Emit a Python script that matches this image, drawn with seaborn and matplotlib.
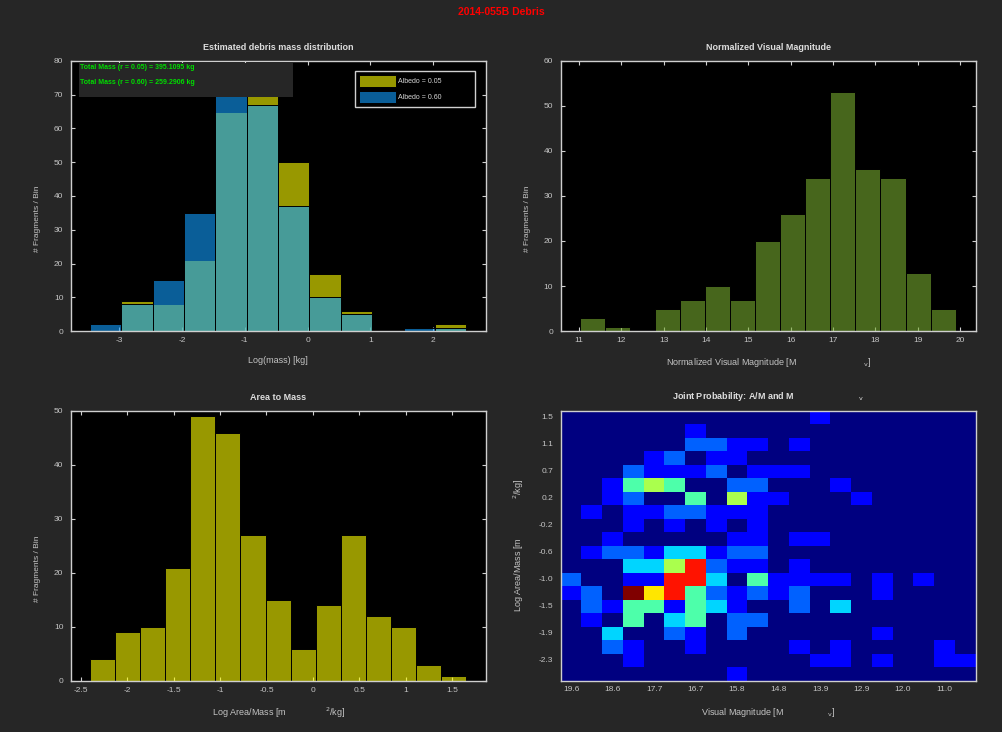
#!/usr/bin/env python3
import matplotlib
matplotlib.use('Agg')
import matplotlib.pyplot as plt
import numpy as np
import seaborn as sns
from matplotlib.colors import to_rgba
from matplotlib.patches import Patch, Rectangle
from matplotlib.ticker import FuncFormatter

BG = '#262626'
EDGE = '#cfcfcf'
TXT = '#c4c4c4'

sns.set_theme(
    context='paper',
    style='ticks',
    rc={
        'figure.facecolor': BG,
        'axes.facecolor': 'black',
        'axes.edgecolor': EDGE,
        'axes.linewidth': 1.0,
        'axes.labelcolor': TXT,
        'axes.titlecolor': '#dddddd',
        'axes.unicode_minus': False,
        'xtick.color': EDGE,
        'ytick.color': EDGE,
        'xtick.labelcolor': TXT,
        'ytick.labelcolor': TXT,
        'xtick.direction': 'in',
        'ytick.direction': 'in',
        'xtick.top': True,
        'ytick.right': True,
        'xtick.major.size': 3,
        'ytick.major.size': 3,
        'xtick.major.width': 0.8,
        'ytick.major.width': 0.8,
        'xtick.major.pad': 4,
        'ytick.major.pad': 5.5,
        'xtick.labelsize': 6,
        'ytick.labelsize': 6,
        'axes.labelsize': 6.5,
        'axes.titlesize': 6.5,
        'axes.titleweight': 'bold',
        'axes.titlepad': 8,
    },
)
plt.rcParams['font.family'] = ['Liberation Sans', 'DejaVu Sans']

# ---- data -----------------------------------------------------------------
# estimated mass distribution, log10(mass) bins
MASS_EDGES = [-3.47, -2.97, -2.47, -1.97, -1.47, -0.97, -0.47,
              0.03, 0.53, 1.03, 1.53, 2.03, 2.53]
MASS_COUNT_A005 = [0, 9, 8, 21, 65, 76, 50, 17, 6, 0, 0, 2]
MASS_COUNT_A060 = [2, 8, 15, 35, 73, 67, 37, 10, 5, 0, 1, 1]
TOTAL_MASS = {'0.05': '395.1095', '0.60': '259.2906'}

# normalized visual magnitude
MV_EDGES = [11.02, 11.61, 12.20, 12.80, 13.39, 13.98, 14.57, 15.16,
            15.76, 16.35, 16.94, 17.53, 18.12, 18.72, 19.31, 19.90]
MV_COUNT = [3, 1, 0, 5, 7, 10, 7, 20, 26, 34, 53, 36, 34, 13, 5]

# log area to mass
AM_EDGES = [-2.40, -2.13, -1.86, -1.59, -1.32, -1.05, -0.78, -0.51,
            -0.24, 0.03, 0.30, 0.57, 0.84, 1.11, 1.38, 1.65]
AM_COUNT = [4, 9, 10, 21, 49, 46, 27, 15, 6, 14, 27, 12, 10, 3, 1]

# joint A/M (rows, top = 1.5) vs Mv (columns, left = 19.6)
JOINT_COUNT = [
    [0, 0, 0, 0, 0, 0, 0, 0, 0, 0, 0, 0, 1, 0, 0, 0, 0, 0, 0, 0],
    [0, 0, 0, 0, 0, 0, 1, 0, 0, 0, 0, 0, 0, 0, 0, 0, 0, 0, 0, 0],
    [0, 0, 0, 0, 0, 0, 2, 2, 1, 1, 0, 1, 0, 0, 0, 0, 0, 0, 0, 0],
    [0, 0, 0, 0, 1, 2, 0, 1, 1, 0, 0, 0, 0, 0, 0, 0, 0, 0, 0, 0],
    [0, 0, 0, 2, 1, 1, 1, 2, 0, 1, 1, 1, 0, 0, 0, 0, 0, 0, 0, 0],
    [0, 0, 1, 4, 5, 4, 0, 0, 2, 2, 0, 0, 0, 1, 0, 0, 0, 0, 0, 0],
    [0, 0, 1, 2, 0, 0, 4, 0, 5, 1, 1, 0, 0, 0, 1, 0, 0, 0, 0, 0],
    [0, 1, 0, 1, 1, 2, 2, 1, 1, 1, 0, 0, 0, 0, 0, 0, 0, 0, 0, 0],
    [0, 0, 0, 1, 0, 1, 0, 1, 0, 1, 0, 0, 0, 0, 0, 0, 0, 0, 0, 0],
    [0, 0, 1, 0, 0, 0, 0, 0, 1, 1, 0, 1, 1, 0, 0, 0, 0, 0, 0, 0],
    [0, 1, 2, 2, 1, 3, 3, 1, 2, 2, 0, 0, 0, 0, 0, 0, 0, 0, 0, 0],
    [0, 0, 0, 3, 3, 5, 8, 2, 1, 1, 0, 1, 0, 0, 0, 0, 0, 0, 0, 0],
    [2, 0, 0, 1, 1, 8, 8, 3, 0, 4, 1, 1, 1, 1, 0, 1, 0, 1, 0, 0],
    [1, 2, 0, 9, 6, 8, 4, 2, 1, 2, 1, 2, 0, 0, 0, 1, 0, 0, 0, 0],
    [0, 2, 1, 4, 4, 1, 4, 3, 1, 0, 0, 2, 0, 3, 0, 0, 0, 0, 0, 0],
    [0, 1, 0, 4, 0, 3, 4, 0, 2, 2, 0, 0, 0, 0, 0, 0, 0, 0, 0, 0],
    [0, 0, 3, 0, 0, 2, 1, 0, 2, 0, 0, 0, 0, 0, 0, 1, 0, 0, 0, 0],
    [0, 0, 2, 1, 0, 0, 1, 0, 0, 0, 0, 1, 0, 1, 0, 0, 0, 0, 1, 0],
    [0, 0, 0, 1, 0, 0, 0, 0, 0, 0, 0, 0, 1, 1, 0, 1, 0, 0, 1, 1],
    [0, 0, 0, 0, 0, 0, 0, 0, 1, 0, 0, 0, 0, 0, 0, 0, 0, 0, 0, 0],
]
JOINT_MV_TICKS = ['19.6', '18.6', '17.7', '16.7', '15.8',
                  '14.8', '13.9', '12.9', '12.0', '11.0']
JOINT_AM_TICKS = ['1.5', '1.1', '0.7', '0.2', '-0.2',
                  '-0.6', '-1.0', '-1.5', '-1.9', '-2.3']

YELLOW = (1.0, 1.0, 0.0)
BLUE = (0.067, 0.62, 1.0)
GREEN = (0.466, 0.674, 0.188)


def centers(edges):
    e = np.asarray(edges)
    return (e[:-1] + e[1:]) / 2


def hist(ax, edges, counts, color):
    sns.histplot(x=centers(edges), weights=counts, bins=edges, color=color,
                 alpha=0.6, edgecolor='black', linewidth=0.7, ax=ax)


def frag_ylabel(ax):
    ax.set_ylabel('# Fragments / Bin', fontsize=6, labelpad=9)
    ax.yaxis.set_label_coords(-0.072, 0.415)


fmt = FuncFormatter(lambda v, p: f'{v:g}')
fig = plt.figure(figsize=(10.03, 7.32), dpi=100)
fig.suptitle('2014-055B Debris', color='red', fontweight='bold',
             fontsize=7.5, y=1 - 12 / 732, va='center')

# ---- mass distribution ----------------------------------------------------
ax = fig.add_axes([0.0708, 0.5478, 0.4135, 0.3689])
hist(ax, MASS_EDGES, MASS_COUNT_A005, YELLOW)
hist(ax, MASS_EDGES, MASS_COUNT_A060, BLUE)
ax.set(xlim=(-3.77, 2.84), ylim=(0, 80), xticks=range(-3, 3),
       yticks=range(0, 81, 10))
ax.set_title('Estimated debris mass distribution')
ax.set_xlabel('Log(mass) [kg]', labelpad=9)
frag_ylabel(ax)
ax.add_patch(Rectangle((0.019, 0.867), 0.516, 0.126, transform=ax.transAxes,
                       facecolor=BG, edgecolor='none', zorder=5))
for y, (alb, mass) in zip([0.975, 0.921], TOTAL_MASS.items()):
    ax.text(0.022, y, f'Total Mass (r = {alb}) = {mass} kg',
            transform=ax.transAxes, color='#00dd00', fontsize=5,
            fontweight='bold', va='center', zorder=6)
handles = [Patch(facecolor=to_rgba(c, 0.6), edgecolor='black', linewidth=0.7)
           for c in (YELLOW, BLUE)]
leg = ax.legend(handles, ['Albedo = 0.05', 'Albedo = 0.60'],
                loc='upper left', bbox_to_anchor=(0.684, 0.5, 0.289, 0.463),
                mode='expand', borderaxespad=0, fontsize=5, frameon=True,
                fancybox=False, handlelength=5.3, handleheight=2.2,
                labelspacing=0.65, handletextpad=0.4, borderpad=0.6)
leg.get_frame().set(facecolor='black', edgecolor='#d0d0d0', linewidth=1.0,
                    alpha=1)
for t in leg.get_texts():
    t.set_color('#d8d8d8')

# ---- normalized visual magnitude --------------------------------------------
ax = fig.add_axes([0.559, 0.5478, 0.4138, 0.3689])
hist(ax, MV_EDGES, MV_COUNT, GREEN)
ax.set(xlim=(10.57, 20.37), ylim=(0, 60), xticks=range(11, 21),
       yticks=range(0, 61, 10))
ax.set_title('Normalized Visual Magnitude')
ax.set_xlabel('Normalized Visual Magnitude [M' + ' ' * 27 + r'$_{\rm v}$]',
              labelpad=9)
frag_ylabel(ax)

# ---- area to mass -----------------------------------------------------------
ax = fig.add_axes([0.0708, 0.0697, 0.4135, 0.3689])
hist(ax, AM_EDGES, AM_COUNT, YELLOW)
ax.set(xlim=(-2.604, 1.861), ylim=(0, 50), xticks=np.arange(-2.5, 1.6, 0.5),
       yticks=range(0, 51, 10))
ax.xaxis.set_major_formatter(fmt)
ax.set_title('Area to Mass')
ax.set_xlabel('Log Area/Mass [m' + ' ' * 16 + r'$^{2}$/kg]', labelpad=9)
frag_ylabel(ax)

# ---- joint probability ------------------------------------------------------
ax = fig.add_axes([0.559, 0.0702, 0.4138, 0.3689])
sns.heatmap(np.array(JOINT_COUNT), cmap='jet', vmin=0, vmax=9, cbar=False,
            xticklabels=False, yticklabels=False, linewidths=0, ax=ax)
for s in ax.spines.values():
    s.set_visible(True)
    s.set_color(EDGE)
ax.set_xticks(np.arange(0, 20, 2) + 0.5)
ax.set_xticklabels(JOINT_MV_TICKS, rotation=0)
ax.set_yticks(np.arange(0, 20, 2) + 0.5)
ax.set_yticklabels(JOINT_AM_TICKS, rotation=0, va='center')
ax.tick_params(top=True, right=True, direction='in', length=3,
               color=EDGE, labelcolor=TXT)
ax.set_title('Joint Probability: A/M and M' + ' ' * 26 + r'$_{\rm v}$')
ax.set_xlabel('Visual Magnitude [M' + ' ' * 18 + r'$_{\rm v}$]', labelpad=9)
ax.set_ylabel('Log Area/Mass [m' + ' ' * 16 + r'$^{2}$/kg]', labelpad=9)

fig.savefig('out.png', dpi=100, facecolor=BG)
